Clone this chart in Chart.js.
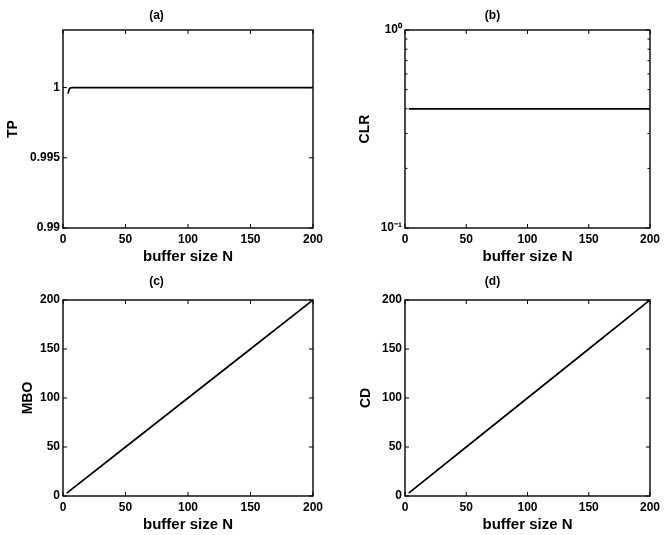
<!DOCTYPE html>
<html>
<head>
<meta charset="utf-8">
<script src="https://cdn.jsdelivr.net/npm/chart.js@4/dist/chart.umd.min.js"></script>
<style>
  html, body { margin: 0; padding: 0; background: #fff; }
  body { width: 664px; height: 535px; position: relative; overflow: hidden; }
  canvas { position: absolute; }
</style>
</head>
<body>
<canvas id="ca" style="left:0;top:0"></canvas>
<canvas id="cb" style="left:332px;top:0"></canvas>
<canvas id="cc" style="left:0;top:267px"></canvas>
<canvas id="cd" style="left:332px;top:267px"></canvas>
<script>
// ---- data ----
const xTicks = [0, 50, 100, 150, 200];

const tpN   = [4, 5, 6, 8, 200];
const tpVal = [0.99957, 0.99988, 0.99998, 1.0, 1.0];
const tpTicks = [0.99, 0.995, 1];
const tpTickLabels = ['0.99', '0.995', '1'];

const clrN   = [3, 200];
const clrVal = [0.4, 0.4];
const clrTicks = [0.1, 0.2, 0.3, 0.4, 0.5, 0.6, 0.7, 0.8, 0.9, 1];
const clrTickLabels = ['10\u207B\u00B9', '', '', '', '', '', '', '', '', '10\u2070'];

const mboN   = [3, 50, 100, 150, 200];
const mboVal = [3, 50, 100, 150, 200];

const cdN   = [3, 50, 100, 150, 200];
const cdVal = [3, 50, 100, 150, 200];

const yTicks200 = [0, 50, 100, 150, 200];

// ---- styling ----
Chart.defaults.font.family = "'Liberation Sans', Arial, Helvetica, sans-serif";
Chart.defaults.color = '#000';

const boxTicks = {
  id: 'boxTicks',
  afterDatasetsDraw(chart) {
    const { ctx, chartArea: a, scales } = chart;
    const xs = scales.x, ys = scales.y;
    ctx.save();
    ctx.strokeStyle = '#000';
    ctx.lineWidth = 1;
    ctx.beginPath();
    xs.ticks.forEach(t => {
      const p = xs.getPixelForValue(t.value);
      ctx.moveTo(p, a.bottom); ctx.lineTo(p, a.bottom - 4);
      ctx.moveTo(p, a.top); ctx.lineTo(p, a.top + 4);
    });
    ys.ticks.forEach(t => {
      const p = ys.getPixelForValue(t.value);
      const L = t.minor ? 2.5 : 4;
      ctx.moveTo(a.left, p); ctx.lineTo(a.left + L, p);
      ctx.moveTo(a.right, p); ctx.lineTo(a.right - L, p);
    });
    ctx.stroke();
    ctx.lineWidth = 1.4;
    ctx.strokeRect(a.left, a.top, a.right - a.left, a.bottom - a.top);
    ctx.restore();
  }
};

function makeChart(id, o) {
  const cv = document.getElementById(id);
  cv.width = o.w; cv.height = o.h;
  cv.style.width = o.w + 'px'; cv.style.height = o.h + 'px';
  const pts = o.xs.map((x, i) => ({ x: x, y: o.ys[i] }));
  return new Chart(cv, {
    type: 'line',
    data: { datasets: [{ data: pts, borderColor: '#000', borderWidth: 1.7, pointRadius: 0, fill: false,
                          cubicInterpolationMode: o.mono ? 'monotone' : 'default' }] },
    options: {
      responsive: false,
      animation: false,
      devicePixelRatio: 1,
      layout: { padding: { left: 0, right: o.padRight, top: 0, bottom: 0 } },
      plugins: {
        legend: { display: false },
        tooltip: { enabled: false },
        title: {
          display: true, text: o.title,
          font: { size: 12, weight: 'bold', lineHeight: 1 },
          padding: { top: o.titleTop, bottom: o.titleBottom }, color: '#000'
        }
      },
      scales: {
        x: {
          type: 'linear', min: 0, max: 200,
          grid: { display: false, drawTicks: false },
          border: { display: false },
          afterBuildTicks: s => { s.ticks = xTicks.map(v => ({ value: v })); },
          afterFit: s => { s.height = 39; },
          ticks: { autoSkip: false, maxRotation: 0, padding: 4, font: { size: 12, weight: 'bold' }, color: '#000',
                   callback: v => String(v) },
          title: { display: true, text: 'buffer size N', font: { size: 15, weight: 'bold' }, color: '#000',
                   padding: { top: 0, bottom: 1 } }
        },
        y: {
          type: o.ytype, min: o.ymin, max: o.ymax,
          grid: { display: false, drawTicks: false },
          border: { display: false },
          afterBuildTicks: s => { s.ticks = o.yt.map((v, i) => ({ value: v, minor: o.yl[i] === '' })); },
          afterFit: s => { s.width = o.yw; },
          ticks: { autoSkip: false, padding: 3, font: { size: 12, weight: 'bold' }, color: '#000',
                   callback: (v, i) => o.yl[i] },
          title: { display: true, text: o.ylabel, font: { size: 14, weight: 'bold' }, color: '#000',
                   padding: { top: o.ytPad, bottom: 0 } }
        }
      }
    },
    plugins: [boxTicks]
  });
}

makeChart('ca', { w: 332, h: 267, xs: tpN, ys: tpVal, mono: true, title: '(a)', titleTop: 10, titleBottom: 8,
  padRight: 19, ytype: 'linear', ymin: 0.99, ymax: 1.0041, yt: tpTicks, yl: tpTickLabels, yw: 63, ylabel: 'TP', ytPad: 5 });

makeChart('cb', { w: 332, h: 267, xs: clrN, ys: clrVal, title: '(b)', titleTop: 10, titleBottom: 8,
  padRight: 11, ytype: 'logarithmic', ymin: 0.1, ymax: 1, yt: clrTicks, yl: clrTickLabels, yw: 73, ylabel: 'CLR', ytPad: 25 });

makeChart('cc', { w: 332, h: 268, xs: mboN, ys: mboVal, title: '(c)', titleTop: 9, titleBottom: 12,
  padRight: 19, ytype: 'linear', ymin: 0, ymax: 200, yt: yTicks200, yl: yTicks200.map(String), yw: 63, ylabel: 'MBO', ytPad: 20 });

makeChart('cd', { w: 332, h: 268, xs: cdN, ys: cdVal, title: '(d)', titleTop: 9, titleBottom: 12,
  padRight: 11, ytype: 'linear', ymin: 0, ymax: 200, yt: yTicks200, yl: yTicks200.map(String), yw: 73, ylabel: 'CD', ytPad: 26 });
</script>
</body>
</html>
